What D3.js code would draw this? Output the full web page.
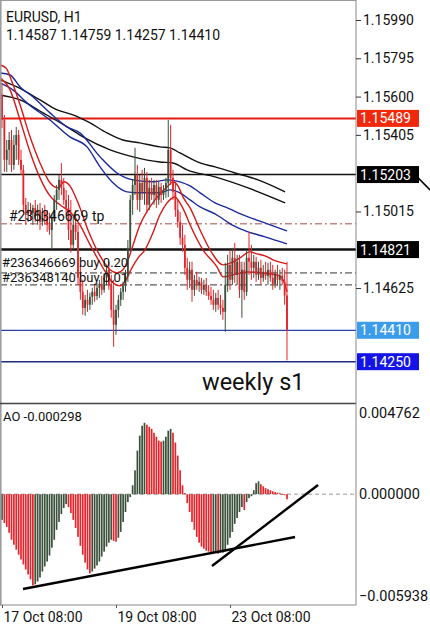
<!DOCTYPE html>
<html><head><meta charset="utf-8">
<script src="https://cdn.jsdelivr.net/npm/d3@7"></script>
<style>body{margin:0;background:#fff;} svg{display:block;font-family:Roboto, "Noto Sans", sans-serif;}</style>
</head><body><svg id="c" width="430" height="625"></svg>
<script>
// ---------------- DATA ----------------
const symbolTitle = "EURUSD, H1";
const lastBarText = "1.14587 1.14759 1.14257 1.14410";
const aoTitle = "AO -0.000298";
const noteText = "weekly s1";

const opens = [1.15608,1.15481,1.15278,1.15329,1.15379,1.15252,1.15354,1.15405,1.15278,1.15227,
1.15049,1.14998,1.15023,1.15008,1.15033,1.14998,1.15023,1.14962,1.15013,1.14982,
1.14947,1.14921,1.14982,1.15074,1.15125,1.15176,1.15135,1.15074,1.15033,1.14921,
1.14845,1.14947,1.14911,1.14677,1.14606,1.14524,1.14565,1.14540,1.14580,1.14606,
1.14585,1.14626,1.14646,1.14616,1.14677,1.14718,1.14641,1.14514,1.14438,1.14514,
1.14565,1.14606,1.14636,1.14687,1.14830,1.15074,1.15150,1.15201,1.15074,1.15160,
1.15115,1.15186,1.15049,1.15135,1.15099,1.15150,1.15074,1.15140,1.15099,1.15125,
1.15160,1.15329,1.15186,1.15115,1.15023,1.14962,1.14881,1.14845,1.14728,1.14667,
1.14718,1.14616,1.14667,1.14641,1.14657,1.14616,1.14641,1.14606,1.14585,1.14565,
1.14540,1.14575,1.14540,1.14524,1.14504,1.14641,1.14743,1.14667,1.14779,1.14692,
1.14759,1.14616,1.14718,1.14606,1.14779,1.14759,1.14728,1.14759,1.14692,1.14728,
1.14677,1.14708,1.14687,1.14718,1.14677,1.14646,1.14697,1.14667,1.14687,1.14657,
1.14587];
const highs = [1.15670,1.15507,1.15379,1.15420,1.15430,1.15405,1.15445,1.15430,1.15329,1.15252,
1.15084,1.15064,1.15059,1.15049,1.15074,1.15049,1.15059,1.15033,1.15049,1.15023,
1.15008,1.14998,1.15099,1.15150,1.15201,1.15262,1.15186,1.15125,1.15099,1.15074,
1.14998,1.15023,1.14947,1.14743,1.14667,1.14590,1.14616,1.14601,1.14626,1.14641,
1.14651,1.14667,1.14687,1.14702,1.14743,1.14759,1.14692,1.14667,1.14540,1.14590,
1.14626,1.14657,1.14718,1.14870,1.15099,1.15176,1.15339,1.15252,1.15201,1.15227,
1.15237,1.15217,1.15176,1.15186,1.15176,1.15176,1.15166,1.15160,1.15150,1.15186,
1.15481,1.15456,1.15227,1.15160,1.15074,1.15013,1.14947,1.14896,1.14779,1.14759,
1.14759,1.14692,1.14708,1.14682,1.14677,1.14667,1.14677,1.14641,1.14631,1.14616,
1.14601,1.14616,1.14590,1.14565,1.14754,1.14794,1.14820,1.14830,1.14855,1.14794,
1.14794,1.14759,1.14759,1.14820,1.14911,1.14845,1.14794,1.14784,1.14759,1.14769,
1.14743,1.14759,1.14754,1.14759,1.14743,1.14718,1.14743,1.14718,1.14728,1.14718,
1.14759];
const lows = [1.15440,1.15217,1.15217,1.15252,1.15217,1.15227,1.15278,1.15252,1.15201,1.15013,
1.14947,1.14962,1.14972,1.14947,1.14962,1.14947,1.14921,1.14942,1.14947,1.14911,
1.14896,1.14820,1.14962,1.15023,1.15074,1.15099,1.15049,1.14998,1.14870,1.14805,
1.14820,1.14870,1.14641,1.14565,1.14489,1.14484,1.14504,1.14514,1.14540,1.14555,
1.14565,1.14575,1.14590,1.14601,1.14641,1.14616,1.14474,1.14326,1.14387,1.14474,
1.14534,1.14565,1.14606,1.14657,1.14810,1.14998,1.15099,1.15023,1.15013,1.15074,
1.15049,1.15008,1.15023,1.15074,1.15049,1.15033,1.15049,1.15059,1.15074,1.15084,
1.15089,1.15150,1.15074,1.14988,1.14932,1.14845,1.14810,1.14692,1.14616,1.14626,
1.14555,1.14585,1.14616,1.14606,1.14595,1.14590,1.14585,1.14565,1.14540,1.14514,
1.14504,1.14514,1.14489,1.14463,1.14402,1.14606,1.14616,1.14641,1.14651,1.14641,
1.14575,1.14474,1.14565,1.14585,1.14692,1.14667,1.14677,1.14657,1.14667,1.14641,
1.14657,1.14667,1.14641,1.14657,1.14616,1.14626,1.14636,1.14616,1.14641,1.14540,
1.14257];
const closes = [1.15481,1.15278,1.15329,1.15379,1.15252,1.15354,1.15405,1.15278,1.15227,1.15049,
1.14998,1.15023,1.15008,1.15033,1.14998,1.15023,1.14962,1.15013,1.14982,1.14947,
1.14921,1.14982,1.15074,1.15125,1.15176,1.15135,1.15074,1.15033,1.14921,1.14845,
1.14947,1.14911,1.14677,1.14606,1.14524,1.14565,1.14540,1.14580,1.14606,1.14585,
1.14626,1.14646,1.14616,1.14677,1.14718,1.14641,1.14514,1.14438,1.14514,1.14565,
1.14606,1.14636,1.14687,1.14830,1.15074,1.15150,1.15201,1.15074,1.15160,1.15115,
1.15186,1.15049,1.15135,1.15099,1.15150,1.15074,1.15140,1.15099,1.15125,1.15160,
1.15329,1.15186,1.15115,1.15023,1.14962,1.14881,1.14845,1.14728,1.14667,1.14718,
1.14616,1.14667,1.14641,1.14657,1.14616,1.14641,1.14606,1.14585,1.14565,1.14540,
1.14575,1.14540,1.14524,1.14504,1.14641,1.14743,1.14667,1.14779,1.14692,1.14759,
1.14616,1.14718,1.14606,1.14779,1.14759,1.14728,1.14759,1.14692,1.14728,1.14677,
1.14708,1.14687,1.14718,1.14677,1.14646,1.14697,1.14667,1.14687,1.14662,1.14587,
1.14410];

const aoValues = [-0.00150,-0.00168,-0.00191,-0.00225,-0.00266,-0.00295,-0.00324,-0.00353,-0.00381,-0.00410,
-0.00439,-0.00468,-0.00497,-0.00532,-0.00526,-0.00509,-0.00486,-0.00451,-0.00422,-0.00393,
-0.00358,-0.00312,-0.00266,-0.00208,-0.00162,-0.00116,-0.00081,-0.00058,-0.00075,-0.00110,
-0.00150,-0.00197,-0.00249,-0.00301,-0.00353,-0.00399,-0.00439,-0.00462,-0.00451,-0.00434,
-0.00416,-0.00393,-0.00364,-0.00335,-0.00306,-0.00283,-0.00266,-0.00272,-0.00277,-0.00254,
-0.00220,-0.00162,-0.00104,-0.00046,-0.00017,0.00052,0.00139,0.00254,0.00341,0.00399,
0.00416,0.00405,0.00393,0.00381,0.00358,0.00335,0.00312,0.00306,0.00312,0.00335,
0.00370,0.00381,0.00358,0.00301,0.00225,0.00139,0.00052,0.00006,-0.00052,-0.00104,
-0.00162,-0.00208,-0.00249,-0.00283,-0.00306,-0.00318,-0.00330,-0.00335,-0.00341,-0.00341,
-0.00335,-0.00347,-0.00341,-0.00341,-0.00335,-0.00295,-0.00254,-0.00220,-0.00173,-0.00139,
-0.00104,-0.00075,-0.00092,-0.00046,-0.00023,-0.00012,0.00023,0.00064,0.00075,0.00058,
0.00046,0.00035,0.00029,0.00023,0.00017,0.00012,0.00009,0.00006,-0.00003,-0.00006,
-0.000298];

// moving-average envelopes: [bar index, price]
const redUpper = [[-0.8,1.15761],[1.7,1.15746],[4.2,1.15675],[7.6,1.15558],[11.8,1.15395],[16,1.15262],[20.2,1.15161],[23.6,1.15135],[26.1,1.15166],[28.6,1.15145],[32,1.15059],[36.2,1.14921],[41.3,1.14789],[45.5,1.14718],[48.4,1.14702],[50.9,1.14718],[53.1,1.14769],[55.2,1.14845],[58.1,1.14947],[61.5,1.15023],[64.4,1.15074],[67.4,1.15115],[69.9,1.15145],[72,1.15166],[74.1,1.15145],[76.2,1.15089],[79.2,1.15033],[83.4,1.14921],[87.6,1.14820],[93.1,1.14743],[97.3,1.14758],[100.2,1.14779],[104.4,1.14809],[107.4,1.14799],[110.7,1.14789],[114.1,1.14769],[120,1.14748]];
const redLower = [[-0.8,1.15695],[3.4,1.15634],[7.6,1.15481],[11.8,1.15318],[16,1.15186],[20.2,1.15094],[24.4,1.15049],[28.6,1.15013],[32.8,1.14947],[37.1,1.14845],[41.3,1.14753],[43.8,1.14702],[46.7,1.14652],[49.7,1.14636],[52.2,1.14667],[54.7,1.14728],[57.3,1.14779],[60.2,1.14820],[63.2,1.14896],[66.5,1.14998],[69.5,1.15059],[72.8,1.15089],[74.9,1.15059],[77.1,1.15008],[79.2,1.14947],[84.6,1.14820],[90.5,1.14733],[93.1,1.14682],[97.3,1.14692],[103.2,1.14707],[109.9,1.14702],[117.1,1.14687],[118.7,1.14657],[120,1.14606]];
const blueUpper = [[-0.8,1.15720],[3.4,1.15710],[7.6,1.15649],[13.1,1.15598],[20.2,1.15517],[27.4,1.15446],[32.8,1.15415],[41.3,1.15293],[48.4,1.15211],[55.2,1.15176],[63.6,1.15166],[69.5,1.15176],[74.9,1.15166],[79.2,1.15145],[83.4,1.15110],[89.7,1.15059],[93.9,1.15038],[103.6,1.14987],[109.5,1.14962],[120,1.14916]];
const blueLower = [[-0.8,1.15670],[4.6,1.15634],[10.5,1.15568],[20.2,1.15481],[28.6,1.15395],[35.8,1.15344],[41.3,1.15242],[46.7,1.15161],[52.6,1.15115],[58.1,1.15110],[66.5,1.15110],[70.7,1.15125],[74.9,1.15110],[79.2,1.15074],[83.4,1.15038],[89.7,1.15003],[96.8,1.14947],[103.6,1.14911],[110.7,1.14886],[120,1.14850]];
const blackUpper = [[-0.8,1.15685],[6.3,1.15649],[16,1.15583],[23.2,1.15532],[29.9,1.15507],[37.1,1.15466],[44.2,1.15415],[50.9,1.15379],[58.1,1.15364],[66.5,1.15344],[70.7,1.15339],[74.9,1.15313],[83.4,1.15262],[89.7,1.15242],[98.1,1.15211],[107.8,1.15176],[119.2,1.15115]];
const blackLower = [[-0.8,1.15608],[7.6,1.15583],[17.3,1.15517],[27.4,1.15446],[34.1,1.15395],[45.5,1.15329],[55.2,1.15293],[66.5,1.15267],[72,1.15262],[77.9,1.15227],[89.7,1.15191],[103.6,1.15135],[119.2,1.15059]];

// visible price-scale labels (the others sit under the level boxes)
const priceTicks = [1.15990,1.15795,1.15600,1.15405,1.15015,1.14625];
const levelPrices = [1.15489,1.15203,1.14821,1.14410,1.14250];
const orderPrices = [1.14952,1.14702,1.14641];
const orderLabels = ["#236346669 tp","#236346669 buy 0.20","#236348140 buy 0.01"];
const aoTicks = [0.004762,0.000000,-0.005938];
const timeTickIdx = [0,48,96];
const timeLabels = ["17 Oct 08:00","19 Oct 08:00","23 Oct 08:00"];
const aoTrendA = [[8.84,-0.00553],[123.4,-0.00250]];
const aoTrendB = [[88.4,-0.00419],[133.05,0.00053]];
const priceTrend = [[175.2,1.15186],[181,1.15115]];

// ---------------- DRAW ----------------
const svg = d3.select("#c");
const PR = 356, MT = 0, MB = 403, AT = 404, AB = 605;
const x = d3.scaleLinear().domain([0,120]).range([2,287]);
const y = d3.scaleLinear().domain([1.14250,1.15990]).range([361.7,20]);
const ya = d3.scaleLinear().domain([-0.005938,0.004762]).range([596,412.5]);

const defs = svg.append("defs");
defs.append("clipPath").attr("id","cm").append("rect").attr("x",0).attr("y",MT).attr("width",PR).attr("height",MB-MT);
defs.append("clipPath").attr("id","ca").append("rect").attr("x",0).attr("y",AT).attr("width",PR).attr("height",AB-AT);

const main = svg.append("g").attr("clip-path","url(#cm)");
const BULL = "#3b513b", BEAR = "#e3242b";

// level lines
const levelStyle = [
  {c:"#e41a10", w:2},{c:"#111", w:1.4},{c:"#111", w:2.4},{c:"#2b3fa8", w:1.2},{c:"#1d2a86", w:1.6}
];
main.selectAll("line.lv").data(levelPrices).join("line").attr("class","lv")
  .attr("x1",0).attr("x2",PR).attr("y1",d=>y(d)).attr("y2",d=>y(d))
  .attr("stroke",(d,i)=>levelStyle[i].c).attr("stroke-width",(d,i)=>levelStyle[i].w);
// order lines
main.selectAll("line.od").data(orderPrices).join("line").attr("class","od")
  .attr("x1",0).attr("x2",PR).attr("y1",d=>y(d)).attr("y2",d=>y(d))
  .attr("stroke",(d,i)=>i===0?"#a2504a":"#333").attr("stroke-width",1)
  .attr("stroke-dasharray","7,3,2,3");

// MA lines
const line = d3.line().x(d=>x(d[0])).y(d=>y(d[1])).curve(d3.curveMonotoneX);
[[blackUpper,"#111"],[blackLower,"#111"],[blueUpper,"#1a2a9c"],[blueLower,"#1a2a9c"],[redUpper,"#d81818"],[redLower,"#d81818"]]
 .forEach(([d,c])=>main.append("path").datum(d).attr("d",line).attr("fill","none").attr("stroke",c).attr("stroke-width",1.4));

// candles
const idx = d3.range(opens.length);
const cg = main.append("g");
cg.selectAll("line").data(idx).join("line")
  .attr("x1",i=>x(i)).attr("x2",i=>x(i)).attr("y1",i=>y(highs[i])).attr("y2",i=>y(lows[i]))
  .attr("stroke",i=>closes[i]>=opens[i]?BULL:BEAR).attr("stroke-width",1);
cg.selectAll("rect").data(idx).join("rect")
  .attr("x",i=>x(i)-0.9).attr("width",1.8)
  .attr("y",i=>y(Math.max(opens[i],closes[i])))
  .attr("height",i=>Math.max(1,Math.abs(y(opens[i])-y(closes[i]))))
  .attr("fill",i=>closes[i]>=opens[i]?BULL:BEAR);

// order labels
main.selectAll("text.ol").data(orderLabels).join("text").attr("class","ol")
  .attr("x",(d,i)=>i===0?9:2).attr("y",(d,i)=>i===0?y(orderPrices[0])-3:(i===1?266.5:282))
  .attr("font-size",(d,i)=>i===0?14:13).attr("fill","#111").text(d=>d);

// headers
svg.append("text").attr("x",6).attr("y",22).attr("font-size",14).attr("fill","#111").text(symbolTitle);
svg.append("text").attr("x",6).attr("y",40).attr("font-size",14).attr("fill","#111").text(lastBarText);
svg.append("text").attr("x",202).attr("y",390).attr("font-size",23.5).attr("fill","#111").text(noteText);

// AO
const ag = svg.append("g").attr("clip-path","url(#ca)");
ag.append("line").attr("x1",0).attr("x2",PR).attr("y1",ya(0)).attr("y2",ya(0))
  .attr("stroke","#9a9a9a").attr("stroke-dasharray","4,3");
ag.selectAll("rect").data(idx).join("rect")
  .attr("x",i=>x(i)-0.85).attr("width",1.7)
  .attr("y",i=>Math.min(ya(0),ya(aoValues[i])))
  .attr("height",i=>Math.max(0.8,Math.abs(ya(aoValues[i])-ya(0))))
  .attr("fill",i=>(i>0 && aoValues[i]<aoValues[i-1])?BEAR:BULL);
const tl = d3.line().x(d=>x(d[0])).y(d=>ya(d[1]));
[aoTrendA,aoTrendB].forEach(d=>ag.append("path").datum(d).attr("d",tl).attr("stroke","#000").attr("stroke-width",2.4).attr("fill","none"));
svg.append("text").attr("x",3).attr("y",421).attr("font-size",13).attr("fill","#111").text(aoTitle);

// frame
svg.append("line").attr("x1",0).attr("x2",PR).attr("y1",0.5).attr("y2",0.5).attr("stroke","#999");
svg.append("line").attr("x1",0.8).attr("x2",0.8).attr("y1",0).attr("y2",AB).attr("stroke","#999").attr("stroke-width",1.5);
svg.append("line").attr("x1",0).attr("x2",PR).attr("y1",403.5).attr("y2",403.5).attr("stroke","#444").attr("stroke-width",1.5);
svg.append("line").attr("x1",0).attr("x2",PR).attr("y1",AB).attr("y2",AB).attr("stroke","#888");
svg.append("line").attr("x1",PR).attr("x2",PR).attr("y1",0).attr("y2",AB).attr("stroke","#888");

// price axis
const pa = svg.append("g").attr("transform",`translate(${PR},0)`)
  .call(d3.axisRight(y).tickValues(priceTicks).tickFormat(d3.format(".5f")).tickSize(5).tickPadding(2));
pa.select(".domain").remove();
pa.selectAll("text").attr("font-size",14).attr("font-family","Roboto").attr("fill","#111");
pa.selectAll("line").attr("stroke","#333");

// level labels
const lblBg = ["#f0280c","#000","#000","#3c9cec","#1414e6"];
const lg = svg.append("g");
levelPrices.forEach((p,i)=>{
  lg.append("rect").attr("x",PR+1).attr("y",y(p)-8.5).attr("width",62).attr("height",17).attr("fill",lblBg[i]);
  lg.append("text").attr("x",PR+4).attr("y",y(p)+5).attr("font-size",14).attr("fill","#fff").text(d3.format(".5f")(p));
});
// small trend segment beside label
svg.append("path").datum(priceTrend).attr("d",d3.line().x(d=>x(d[0])).y(d=>y(d[1]))).attr("stroke","#000").attr("stroke-width",1.5);

// AO axis
const aa = svg.append("g").attr("transform",`translate(${PR},0)`)
  .call(d3.axisRight(ya).tickValues(aoTicks).tickFormat(d3.format(".6f")).tickSize(0).tickPadding(3));
aa.select(".domain").remove();
aa.selectAll("text").attr("font-size",14.5).attr("font-family","Roboto").attr("fill","#111");

// time axis
const ta = svg.append("g").attr("transform",`translate(0,${AB})`)
  .call(d3.axisBottom(x).tickValues(timeTickIdx).tickFormat((d,i)=>timeLabels[i]).tickSize(3).tickPadding(4));
ta.select(".domain").remove();
ta.selectAll("line").attr("stroke","#555");
ta.selectAll("text").attr("font-size",14).attr("font-family","Roboto").attr("fill","#111").attr("text-anchor","start").attr("dx",1);
</script></body></html>
